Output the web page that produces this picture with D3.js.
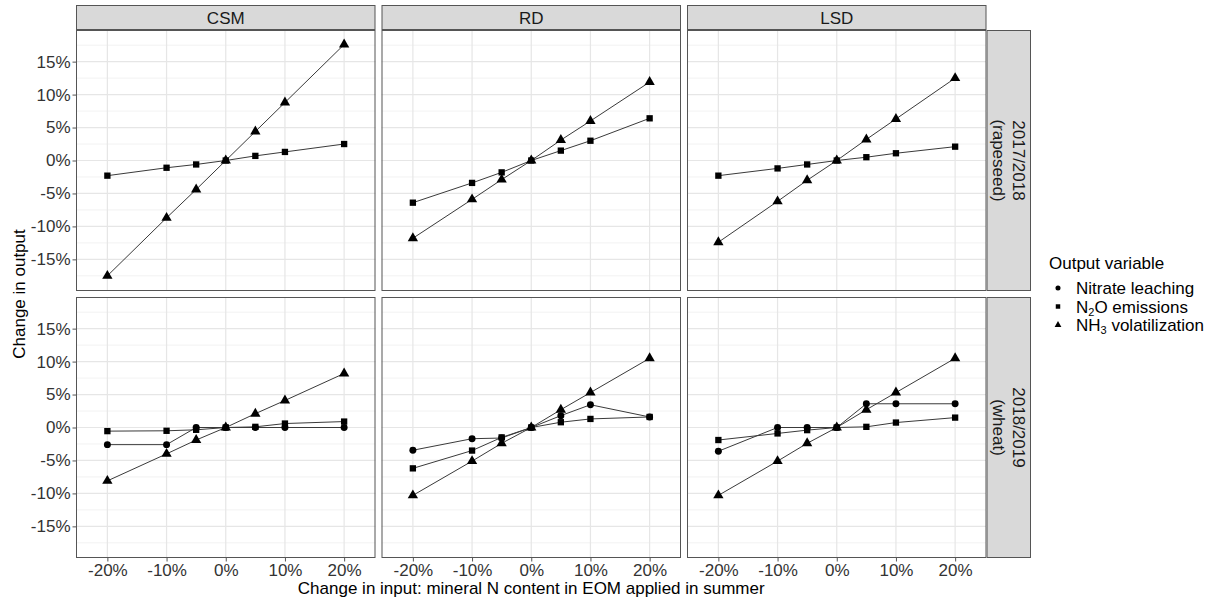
<!DOCTYPE html>
<html>
<head>
<meta charset="utf-8">
<script src="https://cdn.jsdelivr.net/npm/d3@7"></script>
<style>
  html, body { margin: 0; padding: 0; background: #fff; }
  svg { display: block; font-family: "Liberation Sans", Arial, sans-serif; }
</style>
</head>
<body>
<svg id="chart" width="1213" height="600"></svg>
<script>
// ---------------- data ----------------
const xValues = [-20, -10, -5, 0, 5, 10, 20];
const systems = ["CSM", "RD", "LSD"];
const seasonLine1 = ["2017/2018", "2018/2019"];
const seasonLine2 = ["(rapeseed)", "(wheat)"];
const xTicks = [-20, -10, 0, 10, 20];
const yTicks = [-15, -10, -5, 0, 5, 10, 15];
const yMinorTicks = [-17.5, -12.5, -7.5, -2.5, 2.5, 7.5, 12.5, 17.5];
const variables = ["Nitrate leaching", "N2O emissions", "NH3 volatilization"];

// 2017/2018 (rapeseed) – no nitrate leaching values
const n2o_2017_CSM = [-2.3, -1.1, -0.6, 0, 0.7, 1.3, 2.5];
const nh3_2017_CSM = [-17.5, -8.7, -4.4, 0, 4.4, 8.8, 17.6];
const n2o_2017_RD  = [-6.4, -3.4, -1.8, 0, 1.5, 3.0, 6.4];
const nh3_2017_RD  = [-11.8, -5.9, -2.9, 0, 3.1, 6.0, 11.9];
const n2o_2017_LSD = [-2.3, -1.2, -0.6, 0, 0.5, 1.1, 2.1];
const nh3_2017_LSD = [-12.4, -6.2, -3.0, 0, 3.2, 6.3, 12.5];

// 2018/2019 (wheat)
const nitrate_2018_CSM = [-2.6, -2.6, 0, 0, 0, 0, 0];
const n2o_2018_CSM     = [-0.55, -0.5, -0.35, 0, 0.1, 0.6, 0.9];
const nh3_2018_CSM     = [-8.1, -4.0, -1.9, 0, 2.1, 4.1, 8.2];
const nitrate_2018_RD  = [-3.45, -1.7, -1.6, 0, 1.8, 3.45, 1.6];
const n2o_2018_RD      = [-6.2, -3.5, -1.5, 0, 0.8, 1.3, 1.6];
const nh3_2018_RD      = [-10.3, -5.1, -2.4, 0, 2.7, 5.3, 10.5];
const nitrate_2018_LSD = [-3.6, 0, 0, 0, 3.6, 3.6, 3.6];
const n2o_2018_LSD     = [-1.9, -0.9, -0.4, 0, 0.1, 0.75, 1.5];
const nh3_2018_LSD     = [-10.3, -5.1, -2.4, 0, 2.7, 5.3, 10.5];

const panelSeries = [
  [ // row 0
    [null, n2o_2017_CSM, nh3_2017_CSM],
    [null, n2o_2017_RD, nh3_2017_RD],
    [null, n2o_2017_LSD, nh3_2017_LSD]
  ],
  [ // row 1
    [nitrate_2018_CSM, n2o_2018_CSM, nh3_2018_CSM],
    [nitrate_2018_RD, n2o_2018_RD, nh3_2018_RD],
    [nitrate_2018_LSD, n2o_2018_LSD, nh3_2018_LSD]
  ]
];

// ---------------- layout ----------------
const svg = d3.select("#chart");
const colX = [76, 381.5, 687];
const panelW = 299.5;
const rowY = [30, 297];
const panelH = 261;
const stripTop = 5;
const stripRightW = 44.5;
const FONT = 17;

const x = d3.scaleLinear().domain([-25.3, 25.3]).range([0, panelW]);
const y = d3.scaleLinear().domain([-19.8, 19.8]).range([panelH, 0]);

const symbolTypes = [d3.symbolCircle, d3.symbolSquare, d3.symbolTriangle];
const symbolSizes = [38, 40, 46];
const fmt = d => d + "%";

// top strips
systems.forEach((s, c) => {
  const g = svg.append("g").attr("transform", `translate(${colX[c]},${stripTop})`);
  g.append("rect").attr("x", 0.5).attr("y", 0.5)
    .attr("width", panelW - 1).attr("height", rowY[0] - stripTop - 1)
    .attr("fill", "#d9d9d9").attr("stroke", "#555").attr("stroke-width", 1);
  g.append("text").attr("x", panelW / 2).attr("y", (rowY[0] - stripTop) / 2 + 6)
    .attr("text-anchor", "middle").attr("font-size", FONT).attr("fill", "#1a1a1a").text(s);
});

// right strips
seasonLine1.forEach((s, r) => {
  const sx = colX[2] + panelW;
  const g = svg.append("g").attr("transform", `translate(${sx},${rowY[r]})`);
  g.append("rect").attr("x", 0.5).attr("y", 0.5)
    .attr("width", stripRightW - 1).attr("height", panelH - 1)
    .attr("fill", "#d9d9d9").attr("stroke", "#555").attr("stroke-width", 1);
  const t = g.append("g").attr("transform", `translate(${stripRightW / 2},${panelH / 2}) rotate(90)`);
  t.append("text").attr("x", 0).attr("y", -4.5).attr("text-anchor", "middle")
    .attr("font-size", FONT).attr("fill", "#1a1a1a").text(s);
  t.append("text").attr("x", 0).attr("y", 15.5).attr("text-anchor", "middle")
    .attr("font-size", FONT).attr("fill", "#1a1a1a").text(seasonLine2[r]);
});

// panels
for (let r = 0; r < 2; r++) {
  for (let c = 0; c < 3; c++) {
    const g = svg.append("g").attr("transform", `translate(${colX[c]},${rowY[r]})`);
    g.append("rect").attr("width", panelW).attr("height", panelH).attr("fill", "#fff");
    // minor grid
    g.selectAll(".ymin").data(yMinorTicks).enter().append("line")
      .attr("x1", 0).attr("x2", panelW)
      .attr("y1", d => y(d)).attr("y2", d => y(d))
      .attr("stroke", "#efefef").attr("stroke-width", 0.8);
    // major grid
    g.selectAll(".ymaj").data(yTicks).enter().append("line")
      .attr("x1", 0).attr("x2", panelW)
      .attr("y1", d => y(d)).attr("y2", d => y(d))
      .attr("stroke", "#e6e6e6").attr("stroke-width", 1.2);
    g.selectAll(".xmaj").data(xTicks).enter().append("line")
      .attr("y1", 0).attr("y2", panelH)
      .attr("x1", d => x(d)).attr("x2", d => x(d))
      .attr("stroke", "#e6e6e6").attr("stroke-width", 1.2);

    const series = panelSeries[r][c];
    const line = d3.line().x((d, i) => x(xValues[i])).y(d => y(d));
    series.forEach((vals, k) => {
      if (!vals) return;
      g.append("path").datum(vals).attr("d", line)
        .attr("fill", "none").attr("stroke", "#3a3a3a").attr("stroke-width", 1);
    });
    series.forEach((vals, k) => {
      if (!vals) return;
      g.selectAll(null).data(vals).enter().append("path")
        .attr("transform", (d, i) => `translate(${x(xValues[i])},${y(d)})`)
        .attr("d", d3.symbol().type(symbolTypes[k]).size(symbolSizes[k]))
        .attr("fill", "#000");
    });

    g.append("rect").attr("x", 0.5).attr("y", 0.5)
      .attr("width", panelW - 1).attr("height", panelH - 1)
      .attr("fill", "none").attr("stroke", "#555").attr("stroke-width", 1);

    // y axis
    if (c === 0) {
      const ya = d3.axisLeft(y).tickValues(yTicks).tickFormat(fmt).tickSize(3.5).tickPadding(2);
      const ag = g.append("g").call(ya);
      ag.select(".domain").remove();
      ag.selectAll("line").attr("stroke", "#555");
      ag.selectAll("text").attr("font-size", FONT).attr("fill", "#333")
        .attr("font-family", "Liberation Sans, Arial, sans-serif");
    }
    // x axis
    if (r === 1) {
      const xa = d3.axisBottom(x).tickValues(xTicks).tickFormat(fmt).tickSize(3.5).tickPadding(2);
      const ag = g.append("g").attr("transform", `translate(0,${panelH})`).call(xa);
      ag.select(".domain").remove();
      ag.selectAll("line").attr("stroke", "#555");
      ag.selectAll("text").attr("font-size", FONT).attr("fill", "#333")
        .attr("font-family", "Liberation Sans, Arial, sans-serif");
    }
  }
}

// axis titles
svg.append("text").attr("x", (colX[0] + colX[2] + panelW) / 2).attr("y", 594)
  .attr("text-anchor", "middle").attr("font-size", FONT).attr("fill", "#000")
  .text("Change in input: mineral N content in EOM applied in summer");
svg.append("text")
  .attr("transform", `translate(25,${(rowY[0] + rowY[1] + panelH) / 2}) rotate(-90)`)
  .attr("text-anchor", "middle").attr("font-size", FONT).attr("fill", "#000")
  .text("Change in output");

// legend
const lg = svg.append("g").attr("transform", "translate(1049,0)");
lg.append("text").attr("x", 0).attr("y", 269).attr("font-size", FONT).attr("fill", "#000")
  .text("Output variable");
const legendY = [288, 306.5, 325];
variables.forEach((v, k) => {
  lg.append("path").attr("transform", `translate(9,${legendY[k]})`)
    .attr("d", d3.symbol().type(symbolTypes[k]).size(20)).attr("fill", "#000");
  const t = lg.append("text").attr("x", 27).attr("y", legendY[k] + 6)
    .attr("font-size", FONT).attr("fill", "#000");
  if (k === 0) {
    t.text(v);
  } else {
    const parts = k === 1 ? ["N", "2", "O emissions"] : ["NH", "3", " volatilization"];
    t.append("tspan").text(parts[0]);
    t.append("tspan").attr("font-size", 11).attr("dy", 3).text(parts[1]);
    t.append("tspan").attr("dy", -3).text(parts[2]);
  }
});
</script>
</body>
</html>
